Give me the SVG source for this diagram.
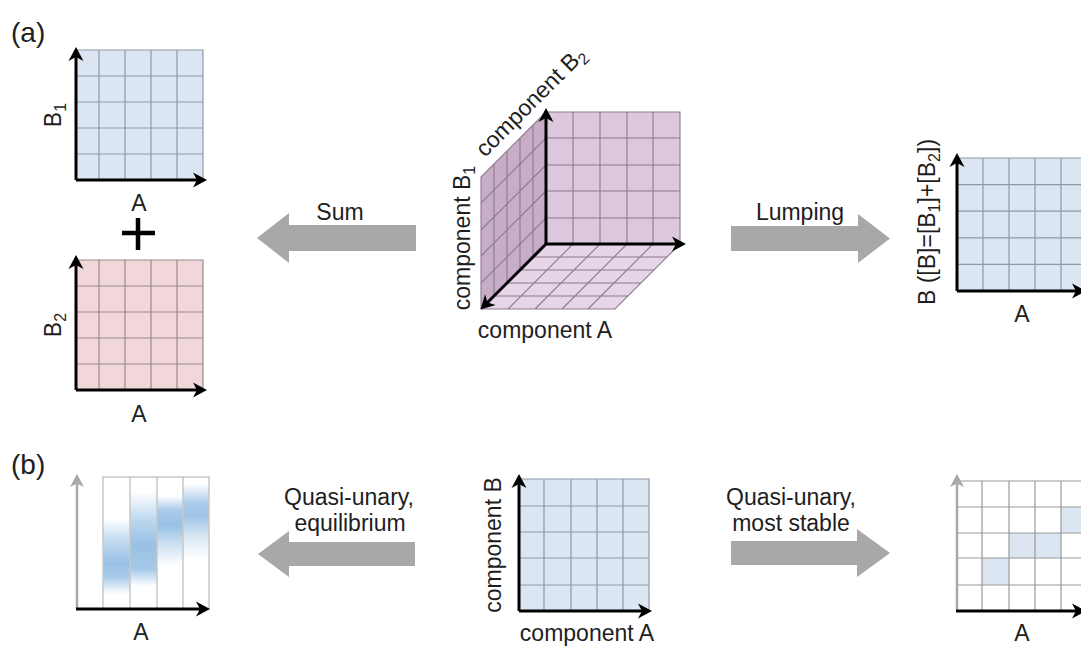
<svg xmlns="http://www.w3.org/2000/svg" width="1081" height="646" viewBox="0 0 1081 646">
<style>
text{font-family:"Liberation Sans",Arial,sans-serif;font-size:23px;fill:#1e1e1e}
.lbl{font-size:28px}
.sub{font-size:16px}
.ax{stroke:#000;stroke-width:3;fill:none;marker-end:url(#ah)}
.axg{stroke:#a9a9a9;stroke-width:2.5;fill:none;marker-end:url(#ahg)}
.gb{fill:#dce6f2}
.lb{stroke:#8d99a8;stroke-width:1.2;fill:none}
.lp{stroke:#9c8a8e;stroke-width:1.2;fill:none}
.lc{stroke:#8e788e;stroke-width:1.1;fill:none}
.lg{stroke:#9a9a9a;stroke-width:1.2;fill:none}
.lw{stroke:#c8c8c8;stroke-width:1.5;fill:none}
.big{fill:#aaa8a6}
</style>
<defs>
<marker id="ah" viewBox="-15 -8 17 16" markerWidth="17" markerHeight="16" refX="-5" refY="0" orient="auto" markerUnits="userSpaceOnUse"><path d="M0,0 L-14,-7.5 L-10,0 L-14,7.5 Z" fill="#000"/></marker>
<marker id="ahg" viewBox="-15 -8 17 16" markerWidth="17" markerHeight="16" refX="-5" refY="0" orient="auto" markerUnits="userSpaceOnUse"><path d="M0,0 L-13,-7 L-9.5,0 L-13,7 Z" fill="#a9a9a9"/></marker>
<linearGradient id="g1" gradientUnits="userSpaceOnUse" x1="0" y1="518" x2="0" y2="594"><stop offset="0" stop-color="#86b6e0" stop-opacity="0"/><stop offset="0.3" stop-color="#86b6e0" stop-opacity="0.5"/><stop offset="0.6" stop-color="#86b6e0" stop-opacity="0.85"/><stop offset="0.78" stop-color="#86b6e0" stop-opacity="0.7"/><stop offset="1" stop-color="#86b6e0" stop-opacity="0"/></linearGradient>
<linearGradient id="g2" gradientUnits="userSpaceOnUse" x1="0" y1="492" x2="0" y2="586"><stop offset="0" stop-color="#86b6e0" stop-opacity="0"/><stop offset="0.3" stop-color="#86b6e0" stop-opacity="0.55"/><stop offset="0.55" stop-color="#86b6e0" stop-opacity="0.85"/><stop offset="0.82" stop-color="#86b6e0" stop-opacity="0.75"/><stop offset="1" stop-color="#86b6e0" stop-opacity="0"/></linearGradient>
<linearGradient id="g3" gradientUnits="userSpaceOnUse" x1="0" y1="496" x2="0" y2="566"><stop offset="0" stop-color="#86b6e0" stop-opacity="0"/><stop offset="0.2" stop-color="#86b6e0" stop-opacity="0.7"/><stop offset="0.42" stop-color="#86b6e0" stop-opacity="0.85"/><stop offset="0.7" stop-color="#86b6e0" stop-opacity="0.4"/><stop offset="1" stop-color="#86b6e0" stop-opacity="0"/></linearGradient>
<linearGradient id="g4" gradientUnits="userSpaceOnUse" x1="0" y1="484" x2="0" y2="560"><stop offset="0" stop-color="#86b6e0" stop-opacity="0"/><stop offset="0.25" stop-color="#86b6e0" stop-opacity="0.7"/><stop offset="0.42" stop-color="#86b6e0" stop-opacity="0.8"/><stop offset="0.7" stop-color="#86b6e0" stop-opacity="0.3"/><stop offset="1" stop-color="#86b6e0" stop-opacity="0"/></linearGradient>
</defs>
<rect width="1081" height="646" fill="#fff"/>

<text class="lbl" x="11" y="42">(a)</text>
<text class="lbl" x="11" y="474">(b)</text>

<g id="graph-b1">
<rect class="gb" x="76" y="50" width="127" height="130"/>
<path class="lb" d="M76,50H203V180M99,50V180M125,50V180M151,50V180M177,50V180M76,76H203M76,102H203M76,128H203M76,154H203"/>
<path class="ax" d="M76,180V52"/>
<path class="ax" d="M76,180H202"/>
<text transform="translate(61,115) rotate(-90)" text-anchor="middle">B<tspan class="sub" dy="5">1</tspan></text>
<text x="139" y="211" text-anchor="middle">A</text>
</g>

<g id="plus">
<path d="M122,233H155M138,218V250" stroke="#000" stroke-width="4.5" fill="none"/>
</g>

<g id="graph-b2">
<rect x="76" y="260" width="127" height="130" fill="#f1d6da"/>
<path class="lp" d="M76,260H203V390M99,260V390M125,260V390M151,260V390M177,260V390M76,286H203M76,312H203M76,338H203M76,364H203"/>
<path class="ax" d="M76,390V260"/>
<path class="ax" d="M76,390H202"/>
<text transform="translate(61,325) rotate(-90)" text-anchor="middle">B<tspan class="sub" dy="5">2</tspan></text>
<text x="139" y="422" text-anchor="middle">A</text>
</g>

<g id="cube">
<polygon points="546,112 680,112 680,244 546,244" fill="#dcc7dc"/>
<polygon points="546,112 546,244 481,309 481,177" fill="#c8adc8"/>
<polygon points="546,244 680,244 615,309 481,309" fill="#e6d5e6"/>
<path class="lc" d="M546,112H680V244M573,112V244M600,112V244M627,112V244M653,112V244M546,138H680M546,165H680M546,191H680M546,218H680"/>
<path class="lc" d="M546,112L481,177V309M533,125V257M520,138V270M507,151V283M494,164V296M546,138L481,203M546,165L481,230M546,191L481,256M546,218L481,283"/>
<path class="lc" d="M680,244L615,309H481M533,257H667M520,270H654M507,283H641M494,296H628M573,244L508,309M600,244L535,309M627,244L562,309M653,244L588,309"/>
<path class="ax" d="M546,244V113"/>
<path class="ax" d="M546,244H681"/>
<path class="ax" d="M546,244L484,306"/>
<text transform="translate(470,238) rotate(-90)" text-anchor="middle">component B<tspan class="sub" dy="5">1</tspan></text>
<text transform="translate(536,107) rotate(-45)" text-anchor="middle">component B<tspan class="sub" dy="5">2</tspan></text>
<text x="545" y="338" text-anchor="middle">component A</text>
</g>

<g id="graph-lumped">
<rect class="gb" x="957" y="158" width="130" height="133"/>
<path class="lb" d="M957,158H1087M983,158V291M1009,158V291M1035,158V291M1061,158V291M957,184.6H1087M957,211.2H1087M957,237.8H1087M957,264.4H1087"/>
<path class="ax" d="M957,291V158"/>
<path class="ax" d="M957,291H1081"/>
<text transform="translate(935,222) rotate(-90)" text-anchor="middle">B ([B]=[B<tspan class="sub" dy="5">1</tspan><tspan dy="-5">]+[B</tspan><tspan class="sub" dy="5">2</tspan><tspan dy="-5">])</tspan></text>
<text x="1022" y="322" text-anchor="middle">A</text>
</g>

<g id="graph-equilibrium">
<rect x="103" y="477" width="27" height="132" fill="url(#g1)"/>
<rect x="130" y="477" width="27" height="132" fill="url(#g2)"/>
<rect x="157" y="477" width="26" height="132" fill="url(#g3)"/>
<rect x="183" y="477" width="26" height="132" fill="url(#g4)"/>
<path class="lw" d="M103,609V477H209V609M130,477V609M157,477V609M183,477V609"/>
<path class="axg" d="M77,609V479"/>
<path class="ax" d="M76,609H205"/>
<text x="141" y="640" text-anchor="middle">A</text>
</g>

<g id="graph-binary">
<rect class="gb" x="519" y="479" width="130" height="132"/>
<path class="lb" d="M519,479H649V611M544,479V611M571,479V611M597,479V611M623,479V611M519,506H649M519,532H649M519,558H649M519,585H649"/>
<path class="ax" d="M519,611V479"/>
<path class="ax" d="M519,611H647"/>
<text transform="translate(501,545) rotate(-90)" text-anchor="middle">component B</text>
<text x="587" y="641" text-anchor="middle">component A</text>
</g>

<g id="graph-stable">
<rect x="957" y="481" width="130" height="130" fill="#fff"/>
<rect class="gb" x="982" y="558" width="27" height="27"/>
<rect class="gb" x="1009" y="533" width="52" height="25"/>
<rect class="gb" x="1061" y="507" width="26" height="26"/>
<path class="lg" d="M957,481H1087M982,481V611M1009,481V611M1035,481V611M1061,481V611M957,507H1087M957,533H1087M957,558H1087M957,585H1087"/>
<path class="axg" d="M957,611V479"/>
<path class="ax" d="M956,611H1081"/>
<text x="1022" y="641" text-anchor="middle">A</text>
</g>

<g id="connectors">
<polygon class="big" points="416,225 289,225 289,213 257,238 289,263 289,251 416,251"/>
<text x="340" y="220" text-anchor="middle">Sum</text>
<polygon class="big" points="731,226 858,226 858,214 890,238.5 858,263 858,251 731,251"/>
<text x="800" y="220" text-anchor="middle">Lumping</text>
<polygon class="big" points="415,542 289,542 289,531 258,554 289,577 289,566 415,566"/>
<text x="349" y="505" text-anchor="middle">Quasi-unary,</text>
<text x="350" y="531" text-anchor="middle">equilibrium</text>
<polygon class="big" points="731,541 857,541 857,529 890,553 857,577 857,565 731,565"/>
<text x="791" y="505" text-anchor="middle">Quasi-unary,</text>
<text x="791" y="531" text-anchor="middle">most stable</text>
</g>
</svg>
